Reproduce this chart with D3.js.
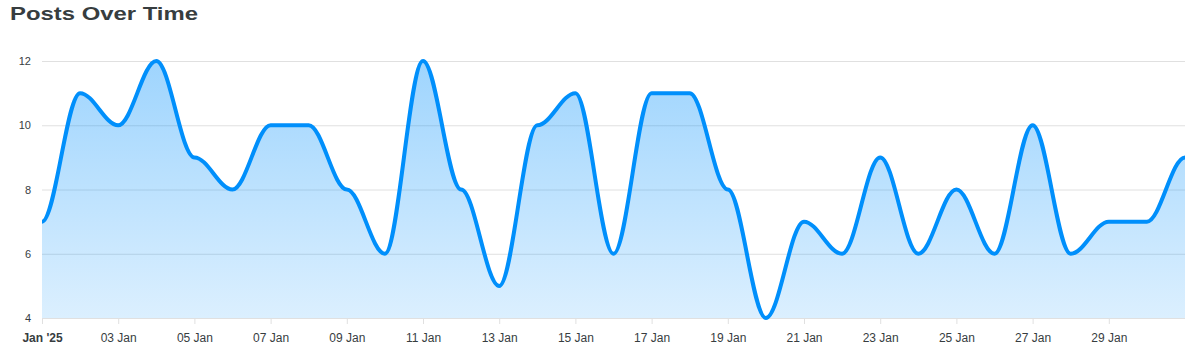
<!DOCTYPE html>
<html lang="en">
<head>
<meta charset="UTF-8">
<script src="https://cdn.jsdelivr.net/npm/d3@7/dist/d3.min.js"></script>
<title>Posts Over Time</title>
<style>
  body { margin: 0; background: #fff; }
  text { font-family: "Liberation Sans", Arial, Helvetica, sans-serif; }
</style>
</head>
<body>
<script>
var dates = ["2025-01-01","2025-01-02","2025-01-03","2025-01-04","2025-01-05","2025-01-06","2025-01-07","2025-01-08","2025-01-09","2025-01-10","2025-01-11","2025-01-12","2025-01-13","2025-01-14","2025-01-15","2025-01-16","2025-01-17","2025-01-18","2025-01-19","2025-01-20","2025-01-21","2025-01-22","2025-01-23","2025-01-24","2025-01-25","2025-01-26","2025-01-27","2025-01-28","2025-01-29","2025-01-30","2025-01-31"];
var posts = [7, 11, 10, 12, 9, 8, 10, 10, 8, 6, 12, 8, 5, 10, 11, 6, 11, 11, 8, 4, 7, 6, 9, 6, 8, 6, 10, 6, 7, 7, 9];
var yTicks = [4, 6, 8, 10, 12];

var width = 1195, height = 350;
var plotLeft = 42, plotRight = 1185, plotTop = 61, plotBottom = 318;

var parse = d3.utcParse("%Y-%m-%d");
var data = dates.map(function (d, i) { return { date: parse(d), value: posts[i] }; });

var x = d3.scaleUtc().domain(d3.extent(data, function (d) { return d.date; })).range([plotLeft, plotRight]);
var y = d3.scaleLinear().domain([4, 12]).range([plotBottom, plotTop]);

// smooth curve: each segment a cubic with horizontal tangents, handles at 35% of the gap
function SmoothCurve(context) { this._context = context; }
SmoothCurve.prototype = {
  areaStart: function () { this._line = 0; },
  areaEnd: function () { this._line = NaN; },
  lineStart: function () { this._point = 0; },
  lineEnd: function () {
    if (this._line || (this._line !== 0 && this._point === 1)) this._context.closePath();
    this._line = 1 - this._line;
  },
  point: function (px, py) {
    px = +px; py = +py;
    if (this._point === 0) {
      this._point = 1;
      this._line ? this._context.lineTo(px, py) : this._context.moveTo(px, py);
    } else {
      this._point = 2;
      var k = (px - this._x0) * 0.35;
      this._context.bezierCurveTo(this._x0 + k, this._y0, px - k, py, px, py);
    }
    this._x0 = px; this._y0 = py;
  }
};
function smoothCurve(context) { return new SmoothCurve(context); }

var svg = d3.select("body").append("svg").attr("width", width).attr("height", height);

var grad = svg.append("defs").append("linearGradient")
  .attr("id", "fill").attr("x1", 0).attr("y1", 0).attr("x2", 0).attr("y2", 1);
grad.append("stop").attr("offset", "0%").attr("stop-color", "#008FFB").attr("stop-opacity", 0.38);
grad.append("stop").attr("offset", "100%").attr("stop-color", "#008FFB").attr("stop-opacity", 0.14);

svg.append("text").attr("x", 10).attr("y", 20)
  .attr("font-size", 18).attr("font-weight", "bold").attr("fill", "#373d3f")
  .attr("textLength", 188).attr("lengthAdjust", "spacingAndGlyphs")
  .text("Posts Over Time");

// grid
svg.append("g").selectAll("line").data(yTicks.slice(1)).enter().append("line")
  .attr("x1", plotLeft).attr("x2", plotRight)
  .attr("y1", function (d) { return y(d) + 0.5; }).attr("y2", function (d) { return y(d) + 0.5; })
  .attr("stroke", "#e0e0e0").attr("stroke-width", 1);

// y labels
svg.append("g").selectAll("text").data(yTicks).enter().append("text")
  .attr("x", 31).attr("y", function (d) { return y(d) + 4; })
  .attr("text-anchor", "end").attr("font-size", 11).attr("fill", "#373d3f")
  .text(function (d) { return d; });

var area = d3.area().curve(smoothCurve)
  .x(function (d) { return x(d.date); })
  .y0(plotBottom).y1(function (d) { return y(d.value); });
var line = d3.line().curve(smoothCurve)
  .x(function (d) { return x(d.date); })
  .y(function (d) { return y(d.value); });

svg.append("path").datum(data).attr("d", area).attr("fill", "url(#fill)");

// x axis
var tickDates = data.filter(function (d, i) { return i % 2 === 0 && i < 30; }).map(function (d) { return d.date; });
var xAxis = d3.axisBottom(x).tickValues(tickDates).tickSize(6).tickPadding(9)
  .tickFormat(function (d) { return d.getUTCDate() === 1 ? "Jan '25" : d3.utcFormat("%d %b")(d); });
var gx = svg.append("g").attr("transform", "translate(0," + plotBottom + ")").call(xAxis);
gx.select(".domain").attr("stroke", "#e0e0e0").attr("d", "M" + plotLeft + ",0.5H" + plotRight);
gx.selectAll(".tick line").attr("stroke", "#e0e0e0");
gx.selectAll(".tick text").attr("font-size", 12).attr("fill", "#373d3f")
  .attr("font-family", "Liberation Sans, Arial, sans-serif")
  .attr("font-weight", function (d) { return d.getUTCDate() === 1 ? "bold" : "normal"; });

svg.append("path").datum(data).attr("d", line)
  .attr("fill", "none").attr("stroke", "#008FFB").attr("stroke-width", 4)
  .attr("stroke-linejoin", "round").attr("stroke-linecap", "butt");
</script>
</body>
</html>
